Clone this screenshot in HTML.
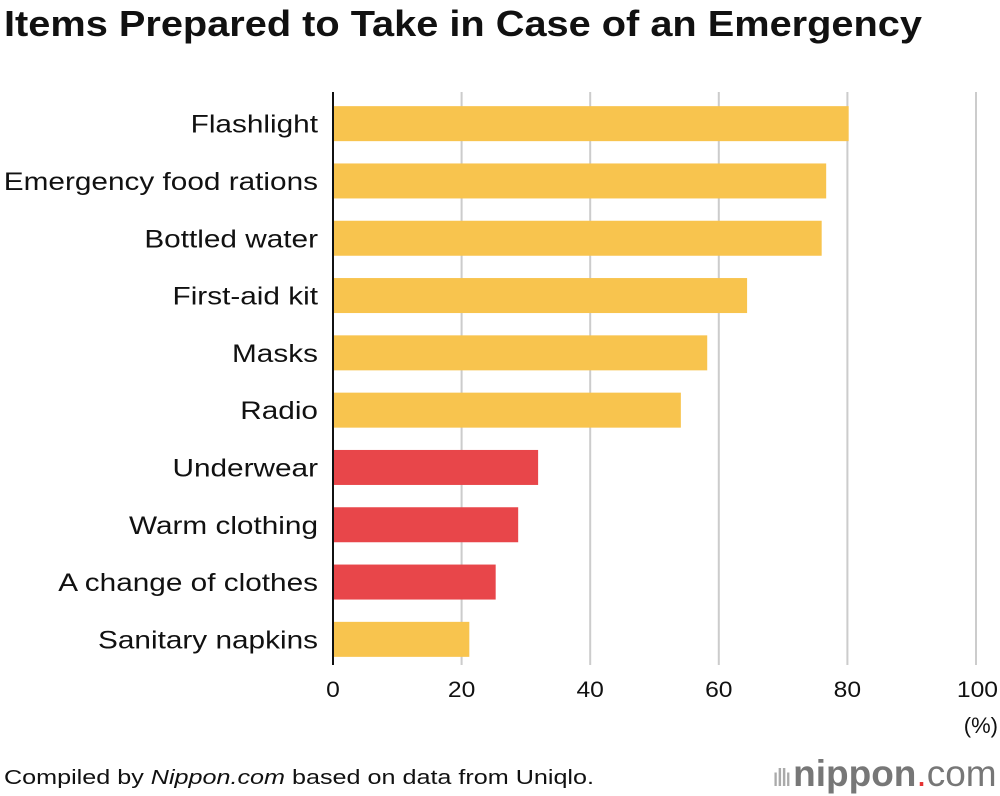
<!DOCTYPE html>
<html><head><meta charset="utf-8"><style>
body{margin:0;width:1000px;height:796px;background:#fff;font-family:"Liberation Sans",sans-serif;overflow:hidden;position:relative}
.s{display:inline-block;transform-origin:0 0;white-space:nowrap}
</style></head><body>
<div id="title" class="s" style="position:absolute;left:4px;top:3px;font-size:36px;font-weight:bold;color:#111">Items Prepared to Take in Case of an Emergency</div>
<svg id="c" width="1000" height="796" style="position:absolute;left:0;top:0"></svg>
<div id="src" class="s" style="position:absolute;left:4px;top:767px;font-size:20px;color:#111">Compiled by <i>Nippon.com</i> based on data from Uniqlo.</div>
<div style="position:absolute;left:772px;top:753px;font-size:37px;color:#777"><span style="font-size:26px;color:#aaa;letter-spacing:-3px">ıIIı </span><b>nippon</b><span style="color:#e53333">.</span>com</div>
<script>
const categories=["Flashlight","Emergency food rations","Bottled water","First-aid kit","Masks","Radio","Underwear","Warm clothing","A change of clothes","Sanitary napkins"];
const values=[80.2,76.7,76.0,64.4,58.2,54.1,31.9,28.8,25.3,21.2];
const highlight=[0,0,0,0,0,0,1,1,1,0];
const ticks=[0,20,40,60,80,100];
const svg=document.getElementById('c');
const NS='http://www.w3.org/2000/svg';
const x0=333,x1=976,top0=95,step=57.3,bh=35;
const xs=v=>x0+(x1-x0)*v/100;
const ys=i=>top0+i*step+(step-bh)/2;
function mk(t,a){const e=document.createElementNS(NS,t);for(const k in a)e.setAttribute(k,a[k]);svg.appendChild(e);return e;}
function widen(t,f){const w=t.getComputedTextLength();t.setAttribute('textLength',w*f);t.setAttribute('lengthAdjust','spacingAndGlyphs');}
ticks.forEach(t=>{
 if(t>0){const l=mk('line',{x1:xs(t),x2:xs(t),y1:92,y2:665,stroke:'#ccc','stroke-width':2});
 
 }
 const tx=mk('text',{x:t==100?998:xs(t),y:697,'text-anchor':t==100?'end':'middle','font-size':22,fill:'#111'});
 tx.textContent=t;
 
 
 widen(tx,1.12);
});
const u=mk('text',{x:998,y:733,'text-anchor':'end','font-size':22,fill:'#111'});u.textContent='(%)';


categories.forEach((c,i)=>{
 const r=mk('rect',{x:x0,y:ys(i),width:xs(values[i])-x0,height:bh,fill:highlight[i]?'#e8464a':'#f8c44e'});
 
 
 const t=mk('text',{x:318,y:ys(i)+bh/2+9,'text-anchor':'end','font-size':25,fill:'#111'});
 t.textContent=c;
 
 
 widen(t,1.19);
});
const ax=mk('line',{x1:x0,x2:x0,y1:92,y2:665,stroke:'#111','stroke-width':2});


function fit(id,w){const e=document.getElementById(id);const r=e.getBoundingClientRect().width;e.style.transform='scaleX('+(w/r)+')';}
fit('title',918);
fit('src',590);
</script>
</body></html>
